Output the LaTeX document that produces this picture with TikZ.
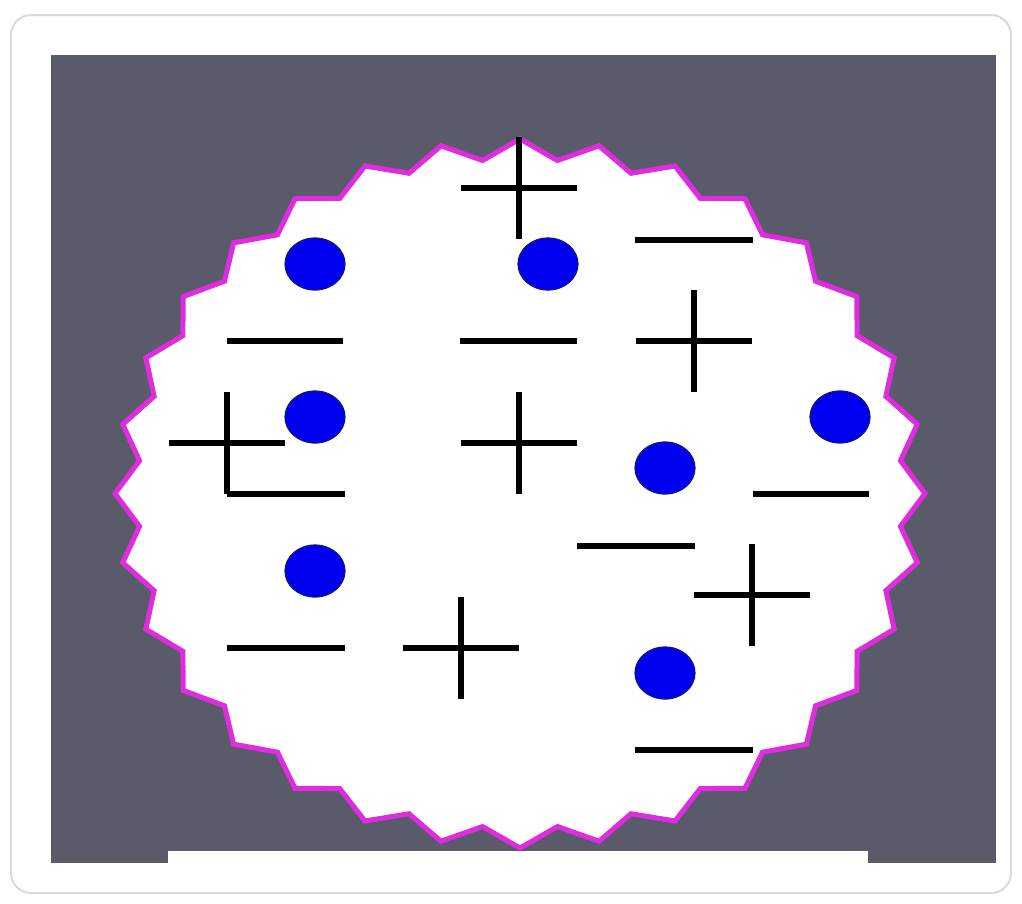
\documentclass[tikz,border=0pt]{standalone}
\usetikzlibrary{shapes.geometric}
\definecolor{cardborder}{HTML}{DADADA}
\definecolor{slate}{HTML}{5A5B6A}
\definecolor{burstpink}{HTML}{E02CE0}
\definecolor{dotblue}{HTML}{0000F0}
\definecolor{dotedge}{HTML}{15157A}
\tikzset{
  dot/.style={ellipse, draw=dotedge, line width=1.2pt, fill=dotblue,
              minimum width=60pt, minimum height=52pt, inner sep=0pt},
  bar/.style={line width=6pt, black},
}
\begin{document}
\begin{tikzpicture}[x=1pt,y=-1pt]
\useasboundingbox (0,0) rectangle (1022,903);
% card
\draw[cardborder, line width=2pt, fill=white, rounded corners=20pt] (11,15) rectangle (1011,893);
% dark panel
\fill[slate] (51,55) rectangle (996,863);
% starburst
\draw[burstpink, line width=5pt, fill=white, line join=miter]
  plot[samples at={0,...,63}]
  ({520+405*(1-0.056*mod(\x,2))*cos(90+5.625*\x)},
   {493.5-354.5*(1-0.056*mod(\x,2))*sin(90+5.625*\x)}) -- cycle;
% white strip at bottom
\fill[white] (168,851) rectangle (868,863);
% dots
\node[dot] (d1) at (315,264) {};
\node[dot] (d2) at (548,264) {};
\node[dot] (d3) at (315,417) {};
\node[dot] (d4) at (840,417) {};
\node[dot] (d5) at (665,468) {};
\node[dot] (d6) at (315,571) {};
\node[dot] (d7) at (665,673) {};
% minus signs
\draw[bar] (227,341) -- (343,341);
\draw[bar] (460,341) -- (577,341);
\draw[bar] (635,240) -- (753,240);
\draw[bar] (227,494) -- (345,494);
\draw[bar] (753,494) -- (869,494);
\draw[bar] (577,546) -- (695,546);
\draw[bar] (227,648) -- (345,648);
\draw[bar] (635,750) -- (753,750);
% plus signs
\foreach \cx/\cy in {519/188, 694/341, 227/443, 519/443, 752/595, 461/648}{
  \draw[bar] (\cx-58,\cy) -- (\cx+58,\cy);
  \draw[bar] (\cx,\cy-51) -- (\cx,\cy+51);
}
\end{tikzpicture}
\end{document}
